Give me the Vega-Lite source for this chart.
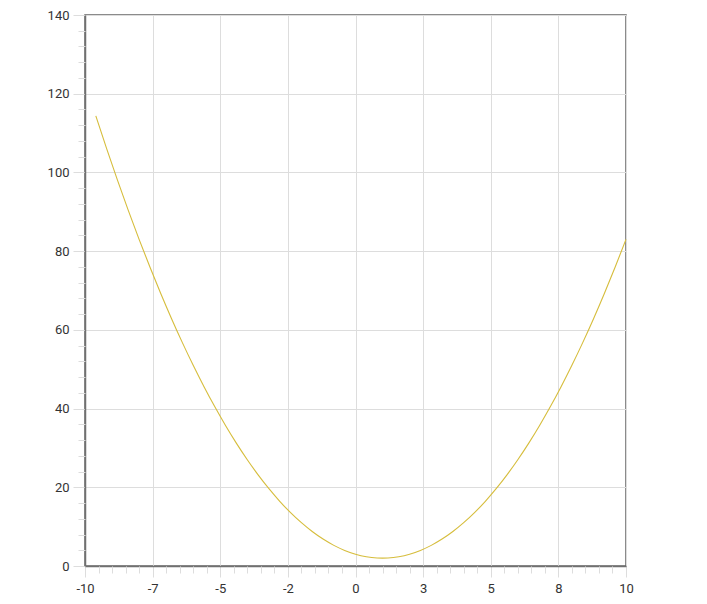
{
  "$schema": "https://vega.github.io/schema/vega-lite/v6.json",
  "autosize": "none",
  "width": 541,
  "height": 551,
  "padding": {"left": 85, "top": 15, "right": 81, "bottom": 38},
  "background": "white",
  "config": {
    "view": {"stroke": "#666666", "strokeWidth": 1.5},
    "axis": {"labelFont": "Roboto", "labelFontSize": 13, "labelColor": "#333333", "title": null}
  },
  "data": {"values": [
    {"x": -9.6, "y": 114.36}, {"x": -9.2, "y": 106.04}, {"x": -8.8, "y": 98.04}, {"x": -8.4, "y": 90.36},
    {"x": -8.0, "y": 83}, {"x": -7.6, "y": 75.96}, {"x": -7.2, "y": 69.24}, {"x": -6.8, "y": 62.84},
    {"x": -6.4, "y": 56.76}, {"x": -6.0, "y": 51}, {"x": -5.6, "y": 45.56}, {"x": -5.2, "y": 40.44},
    {"x": -4.8, "y": 35.64}, {"x": -4.4, "y": 31.16}, {"x": -4.0, "y": 27}, {"x": -3.6, "y": 23.16},
    {"x": -3.2, "y": 19.64}, {"x": -2.8, "y": 16.44}, {"x": -2.4, "y": 13.56}, {"x": -2.0, "y": 11},
    {"x": -1.6, "y": 8.76}, {"x": -1.2, "y": 6.84}, {"x": -0.8, "y": 5.24}, {"x": -0.4, "y": 3.96},
    {"x": 0, "y": 3}, {"x": 0.4, "y": 2.36}, {"x": 0.8, "y": 2.04}, {"x": 1.0, "y": 2}, {"x": 1.2, "y": 2.04},
    {"x": 1.6, "y": 2.36}, {"x": 2.0, "y": 3}, {"x": 2.4, "y": 3.96}, {"x": 2.8, "y": 5.24},
    {"x": 3.2, "y": 6.84}, {"x": 3.6, "y": 8.76}, {"x": 4.0, "y": 11}, {"x": 4.4, "y": 13.56},
    {"x": 4.8, "y": 16.44}, {"x": 5.2, "y": 19.64}, {"x": 5.6, "y": 23.16}, {"x": 6.0, "y": 27},
    {"x": 6.4, "y": 31.16}, {"x": 6.8, "y": 35.64}, {"x": 7.2, "y": 40.44}, {"x": 7.6, "y": 45.56},
    {"x": 8.0, "y": 51}, {"x": 8.4, "y": 56.76}, {"x": 8.8, "y": 62.84}, {"x": 9.2, "y": 69.24},
    {"x": 9.6, "y": 75.96}, {"x": 10, "y": 83}
  ]},
  "layer": [
    {
      "mark": {"type": "line", "color": "#d6bd3c", "strokeWidth": 1.1, "interpolate": "monotone"},
      "encoding": {
        "x": {"field": "x", "type": "quantitative", "scale": {"domain": [-10, 10], "nice": false, "zero": false},
          "axis": {"orient": "bottom", "values": [-10, -7.5, -5, -2.5, 0, 2.5, 5, 7.5, 10],
            "labelExpr": "'' + round(datum.value)",
            "grid": true, "gridColor": "#dddddd", "gridWidth": 1,
            "domainColor": "#707070", "domainWidth": 1.5,
            "tickColor": "#dddddd", "tickSize": 11, "labelPadding": 5, "labelFlush": false}},
        "y": {"field": "y", "type": "quantitative", "scale": {"domain": [0, 140], "nice": false},
          "axis": {"orient": "left", "values": [0, 20, 40, 60, 80, 100, 120, 140],
            "grid": true, "gridColor": "#dddddd", "gridWidth": 1,
            "domainColor": "#707070", "domainWidth": 1.5,
            "tickColor": "#dddddd", "tickSize": 12, "labelPadding": 4}}
      }
    },
    {
      "mark": {"type": "line", "opacity": 0},
      "encoding": {
        "x": {"field": "x", "type": "quantitative",
          "axis": {"orient": "bottom", "values": [-9.5, -9, -8.5, -8, -7, -6.5, -6, -5.5, -4.5, -4, -3.5, -3, -2, -1.5, -1, -0.5, 0.5, 1, 1.5, 2, 3, 3.5, 4, 4.5, 5.5, 6, 6.5, 7, 8, 8.5, 9, 9.5],
            "labels": false, "grid": false, "domain": false, "tickColor": "#dddddd", "tickSize": 7}},
        "y": {"field": "y", "type": "quantitative",
          "axis": {"orient": "left", "values": [4, 8, 12, 16, 24, 28, 32, 36, 44, 48, 52, 56, 64, 68, 72, 76, 84, 88, 92, 96, 104, 108, 112, 116, 124, 128, 132, 136],
            "labels": false, "grid": false, "domain": false, "tickColor": "#dddddd", "tickSize": 7}}
      }
    }
  ],
  "resolve": {"axis": {"x": "independent", "y": "independent"}}
}
